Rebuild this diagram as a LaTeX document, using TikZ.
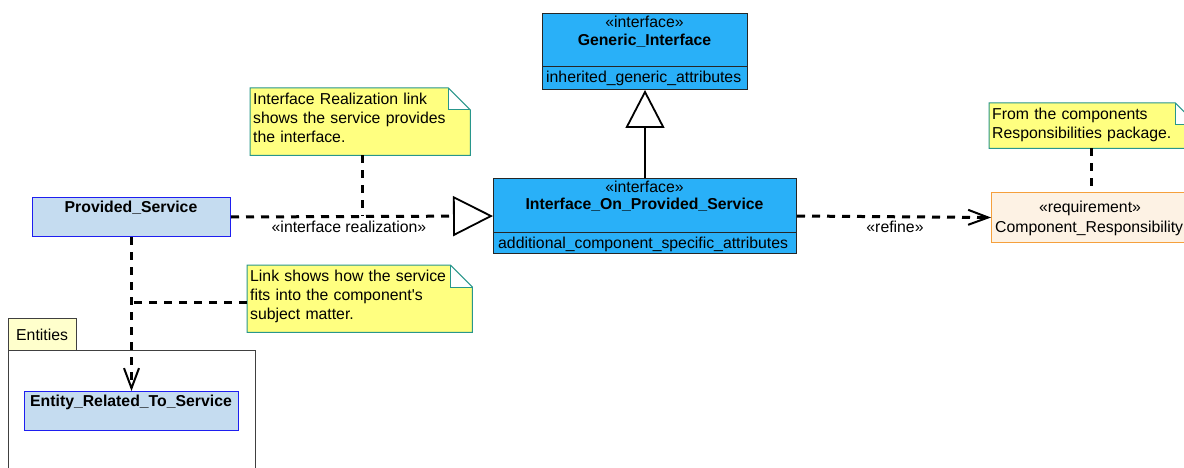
\documentclass[tikz,border=0pt]{standalone}
\usepackage{fontspec}
\setmainfont{Liberation Sans}
\usetikzlibrary{arrows.meta,calc}
\definecolor{ifblue}{RGB}{41,176,248}
\definecolor{psfill}{RGB}{197,220,240}
\definecolor{psborder}{RGB}{30,30,240}
\definecolor{notefill}{RGB}{255,255,128}
\definecolor{noteborder}{RGB}{40,150,140}
\definecolor{tabfill}{RGB}{255,255,204}
\definecolor{pkgborder}{RGB}{64,64,64}
\definecolor{reqfill}{RGB}{253,242,228}
\definecolor{reqborder}{RGB}{245,160,60}
\newcommand{\sq}{\XeTeXglyph\XeTeXcharglyph"0027\relax}
\begin{document}
\begin{tikzpicture}[x=1pt,y=-1pt,
  txt/.style={font=\fontsize{15.8pt}{19pt}\selectfont, inner sep=0pt},
  btxt/.style={font=\fontsize{15.8pt}{19pt}\selectfont\bfseries, inner sep=0pt},
  notetxt/.style={txt, text width=220pt, align=left, anchor=base west},
  box/.style={draw, rectangle, inner sep=0pt, anchor=north west, line width=1pt},
  ifbox/.style={box, fill=ifblue, draw=black!85},
  clsbox/.style={box, fill=psfill, draw=psborder},
  reqbox/.style={box, fill=reqfill, draw=reqborder},
  notearea/.style={rectangle, inner sep=0pt, anchor=north west},
  noteline/.style={draw=noteborder, line width=1pt},
  dep/.style={draw=black, line width=3pt, dash pattern=on 8pt off 7pt},
  solidline/.style={draw=black, line width=2pt},
  realtip/.style={-{Triangle[open, length=40pt, width=40pt, line width=1.8pt]}},
  gentip/.style={-{Triangle[open, length=38pt, width=39pt, line width=1.8pt]}},
  barbtip/.style={-{Straight Barb[length=20pt, width=15pt, line width=2pt]}}
]
\useasboundingbox (0,0) rectangle (1184,468);
\clip (0,0) rectangle (1184,468);

% Package Entities
\node[box, fill=tabfill, draw=pkgborder, minimum width=68pt, minimum height=32pt] (tab) at (8,318) {};
\node[txt, anchor=base west] (tabt) at (16,340) {Entities};
\node[box, fill=white, draw=pkgborder, minimum width=247pt, minimum height=140pt] (pkg) at (8,350) {};

% Generic_Interface
\node[ifbox, minimum width=205pt, minimum height=76pt] (gi) at (542,13) {};
\draw[line width=1pt, draw=black!85] (542,67) -- (747,67);
\node[txt, anchor=base] (gis) at (644.5,28) {«interface»};
\node[btxt, anchor=base] (gin) at (644.5,46) {Generic\_Interface};
\node[txt, anchor=base west] (gia) at (546,83) {inherited\_generic\_attributes};

% Interface_On_Provided_Service
\node[ifbox, minimum width=303pt, minimum height=75pt] (iops) at (493,178) {};
\draw[line width=1pt, draw=black!85] (493,232) -- (796,232);
\node[txt, anchor=base] (iopss) at (644.5,193) {«interface»};
\node[btxt, anchor=base] (iopsn) at (644.5,210) {Interface\_On\_Provided\_Service};
\node[txt, anchor=base west] (iopsa) at (498,248) {additional\_component\_specific\_attributes};

% Provided_Service
\node[clsbox, minimum width=198pt, minimum height=39pt] (ps) at (32,197) {};
\node[btxt, anchor=base] (psn) at (131,212) {Provided\_Service};

% Entity_Related_To_Service
\node[clsbox, minimum width=214pt, minimum height=39pt] (ent) at (24,391) {};
\node[btxt, anchor=base] (entn) at (131,406) {Entity\_Related\_To\_Service};

% Component_Responsibility
\node[reqbox, minimum width=199pt, minimum height=50pt] (req) at (991,192) {};
\node[txt, anchor=base] (reqs) at (1090,212) {«requirement»};
\node[txt, anchor=base west] (reqn) at (995,232) {Component\_Responsibility};

% Notes
\node[notearea, minimum width=220pt, minimum height=67pt] (n1) at (250,88) {};
\node[notearea, minimum width=225pt, minimum height=67pt] (n2) at (247,265) {};
\node[notearea, minimum width=208pt, minimum height=45pt] (n3) at (989,103) {};
\foreach \n in {n1,n2,n3}{
  \fill[notefill] (\n.north west) -- ($(\n.north east)+(-22,0)$) -- ($(\n.north east)+(0,22)$) -- (\n.south east) -- (\n.south west) -- cycle;
  \draw[noteline, fill=white] ($(\n.north east)+(-22,0)$) -- ($(\n.north east)+(-22,22)$) -- ($(\n.north east)+(0,22)$);
  \draw[noteline] (\n.north west) -- ($(\n.north east)+(-22,0)$) -- ($(\n.north east)+(0,22)$) -- (\n.south east) -- (\n.south west) -- cycle;
}
\node[notetxt] (n1t) at (253,105) {Interface Realization link\\shows the service provides\\the interface.};
\node[notetxt] (n2t) at (250,281) {Link shows how the service\\fits into the component\sq s\\subject matter.};
\node[notetxt] (n3t) at (992,120) {From the components\\Responsibilities package.};

% Connectors
\coordinate (r1) at (362,216);
\coordinate (r2) at (131,302);
\draw[dep, realtip] (ps.east) -- (iops.west);
\node[txt, anchor=base] (rl) at (349,232) {«interface realization»};
\draw[dep] (n1.south -| r1) -- (r1);
\draw[dep, barbtip] (ps.south) -- (ent.north);
\draw[dep] (n2.west |- r2) -- (r2);
\draw[solidline, gentip] (iops.north) -- (gi.south);
\draw[dep, barbtip] (iops.east) -- (req.west);
\node[txt, anchor=base] (rfl) at (895,233) {«refine»};
\draw[dep] (n3.south -| req.north) -- (req.north);
\end{tikzpicture}
\end{document}
